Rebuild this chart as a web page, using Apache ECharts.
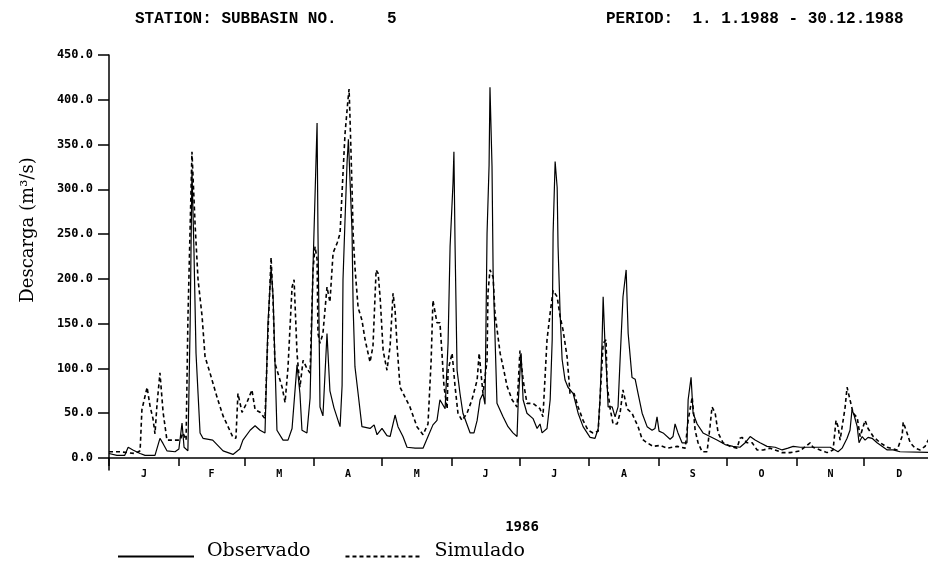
<!DOCTYPE html>
<html><head><meta charset="utf-8">
<script src="https://cdn.jsdelivr.net/npm/echarts@6/dist/echarts.min.js"></script>
<style>html,body{margin:0;padding:0;background:#fff}#c{width:928px;height:564px}</style>
</head><body><div id="c"></div>
<script>
const monthLetters = ['J','F','M','A','M','J','J','A','S','O','N','D'];
const monthStarts = [0,31,60,91,121,152,182,213,244,274,305,335,366];
const yTicks = [0,50,100,150,200,250,300,350,400,450];

// [day of year, discharge m3/s]
const observado = [[0,5],[3.5,3],[7,3],[8.5,12],[10.6,9],[13.8,5],[16,3],[20.4,3],[22.6,22],[24,16],[25.7,8],[29.3,7],[31,10],[32.4,39],[33.3,12],[35,8],[36,150],[36.8,322],[37.7,230],[38.6,117],[39.5,72],[40.4,28],[41.7,22],[46,20],[50.6,8],[55,4],[58,10],[59.4,20],[62.6,31],[64.8,36],[67,31],[69.2,28],[70.5,150],[71.9,212],[72.8,180],[73.6,109],[74.5,31],[77.2,20],[79.4,20],[81.2,33],[83.4,104],[84.7,72],[85.6,31],[87.8,28],[89.2,67],[90.5,213],[92.3,374],[92.7,251],[93.6,57],[94.9,47],[96.7,139],[98,75],[99.8,56],[102.5,35],[103.4,81],[103.8,199],[104.7,266],[105.6,330],[106.2,356],[107.8,254],[108.3,168],[109.1,102],[110.5,72],[112.2,35],[115.8,33],[117.6,37],[118.9,26],[121.1,33],[123.3,25],[124.7,24],[126.9,48],[128.2,35],[130.4,24],[132.2,12],[135.8,11],[139.3,11],[141.5,24],[143.7,37],[145.5,42],[146.8,65],[149.1,55],[150.4,128],[151.3,236],[152.6,307],[153,342],[153.5,239],[154.4,98],[155.7,72],[157,50],[160.2,28],[161.9,28],[163.3,42],[164.6,65],[165.9,72],[166.8,60],[167.7,251],[168.6,327],[169,414],[169.9,326],[170.4,205],[171.2,138],[172.1,61],[174.8,46],[177,35],[179.2,28],[181,24],[181.5,61],[182.8,117],[183.7,65],[185.4,50],[188.1,44],[189.9,33],[191.2,38],[192.1,28],[194.3,33],[195.7,65],[196.6,132],[197,251],[197.9,331],[198.8,302],[199.2,236],[200.1,162],[201,110],[202.3,87],[203.6,79],[205.9,72],[208.1,50],[210.3,35],[213.4,23],[215.6,22],[217,33],[217.8,65],[218.7,128],[219.2,180],[220,128],[220.9,87],[221.4,57],[223.2,57],[224.5,46],[225.8,57],[226.7,109],[228,180],[229.4,210],[230.3,139],[232,90],[233.4,88],[234.7,72],[236.5,50],[238.7,35],[240.9,31],[242.2,33],[243.1,46],[244,30],[245.8,28],[248.9,21],[250.2,24],[251.1,38],[252.4,28],[254.2,17],[256.4,17],[256.9,65],[258.2,90],[259.1,50],[260.9,38],[263.5,28],[266.6,24],[269.7,20],[273.3,15],[276.8,13],[279.9,12],[282.2,17],[284.4,24],[286.6,20],[288.8,17],[291.9,13],[295.5,12],[298.6,9],[301.2,11],[303.5,13],[306.6,12],[315.4,12],[319.9,12],[323.4,7],[325.2,11],[327.4,22],[328.7,31],[329.6,54],[330.5,48],[331.9,35],[332.7,17],[334.1,24],[335.4,20],[336.7,23],[338.5,22],[340.7,17],[342.9,13],[345.2,9],[347.8,9],[350.9,7],[366,6]];

const simulado = [[0,7],[4.9,7],[11.5,5],[13.8,8],[14.6,54],[16.9,79],[18.2,58],[19.5,44],[20.4,27],[21.3,60],[22.6,95],[24,51],[25.7,20],[28,20],[31.5,20],[32.8,28],[34.2,20],[35,154],[36.8,342],[38.2,260],[39.5,199],[41.3,158],[42.6,113],[44.8,95],[47.9,68],[50.6,47],[52.8,35],[55,23],[56.3,22],[57.2,72],[59,51],[61.2,62],[63.4,76],[64.8,54],[67,51],[69.2,44],[70.5,139],[71.9,224],[72.8,174],[73.6,106],[76.8,79],[78.1,62],[79.4,101],[81.2,191],[82.1,199],[83.4,117],[84.7,79],[86.1,109],[87.8,100],[89.2,95],[90.5,210],[91.4,236],[92.3,222],[92.7,139],[93.6,128],[94.9,139],[96.7,191],[98,174],[99.4,229],[101.2,240],[102.5,251],[103.8,318],[104.7,362],[106,400],[106.5,412],[106.9,380],[107.8,302],[108.3,250],[109.1,213],[110.5,168],[112.2,154],[113.6,132],[115.8,107],[117.1,125],[118.5,210],[119.4,206],[120.3,178],[121.6,120],[123.3,98],[124.7,125],[126,184],[126.9,165],[127.8,125],[129.1,79],[131.3,68],[133.5,57],[136.6,35],[139.3,26],[141.5,38],[142.9,109],[143.7,176],[145.5,151],[146.8,151],[147.7,117],[148.6,80],[150,55],[150.4,98],[152.2,117],[153.5,80],[154.8,50],[156.6,42],[158.8,50],[161,65],[163.3,87],[164.2,117],[165,95],[165.9,72],[167.7,109],[168.1,184],[169,210],[170.4,202],[171.2,162],[173.5,117],[174.8,102],[176.6,80],[178.8,65],[181,57],[182.3,120],[183.7,87],[185.4,61],[188.1,61],[191.2,55],[192.5,46],[194.3,132],[195.7,162],[197,187],[198.8,180],[200.1,158],[201.4,143],[203.2,113],[204.5,72],[206.3,72],[208.1,57],[210.3,42],[212.5,31],[214.7,28],[217,30],[217.8,65],[219.2,128],[220.5,132],[220.9,83],[222.3,55],[223.6,38],[225.4,38],[226.7,50],[228,76],[229.8,55],[232,50],[233.4,42],[234.7,35],[236.5,21],[238.7,17],[241.3,13],[244.4,14],[247.6,11],[252,13],[255.6,11],[256.9,42],[258.7,68],[260,31],[261.3,17],[263.1,7],[265.3,7],[266.6,35],[267.5,57],[268.9,50],[270.2,28],[272.4,17],[275.5,13],[278.6,11],[279.9,22],[280.8,23],[283,17],[285.3,17],[287.5,9],[290.2,9],[293.3,11],[298.6,6],[302.1,6],[306.6,8],[311,17],[312.3,12],[315.4,9],[318.5,6],[321.2,9],[322.5,42],[323.4,35],[324.3,20],[326.5,56],[327.4,79],[328.7,65],[330.1,50],[331.9,45],[333.2,24],[335.4,42],[336.7,33],[339,24],[342.1,17],[345.2,12],[349.6,9],[351.8,24],[352.3,40],[354,28],[355.4,17],[357.6,11],[359.8,9],[362,13],[363.4,20],[366,24]];

const monthMids = monthLetters.map((m, i) => (monthStarts[i] + monthStarts[i + 1]) / 2);

const chart = echarts.init(document.getElementById('c'), null, {renderer: 'canvas'});
const mono = 'DejaVu Sans Mono';
chart.setOption({
  animation: false,
  backgroundColor: '#fff',
  grid: {left: 109, top: 55, right: 0, height: 415, containLabel: false},
  legend: {
    left: 117, top: 542, padding: 0,
    itemWidth: 76, itemHeight: 14, itemGap: 34,
    data: ['Observado', 'Simulado'],
    itemStyle: {opacity: 0},
    formatter: name => '{t|' + name + '}',
    textStyle: {rich: {t: {fontFamily: 'DejaVu Serif', fontSize: 19, color: '#000', padding: [0, 0, 10, 8]}}}
  },
  xAxis: {
    type: 'value', min: 0, max: 363.3,
    name: '1986', nameLocation: 'middle', nameGap: 50,
    nameTextStyle: {fontFamily: mono, fontWeight: 'bold', fontSize: 14, color: '#000', padding: [0, 0, 0, 7]},
    axisLine: {onZero: true, lineStyle: {color: '#000', width: 1.6}},
    axisTick: {customValues: monthStarts.slice(0, 12), length: 8, lineStyle: {color: '#000', width: 1.5}},
    axisLabel: {customValues: monthMids, margin: -1, color: '#000', fontFamily: mono, fontWeight: 'bold', fontSize: 10,
      formatter: v => monthLetters[monthMids.indexOf(v)] || ''},
    splitLine: {show: false}
  },
  yAxis: {
    type: 'value', min: -13.4, max: 450,
    axisLine: {show: true, onZero: false, lineStyle: {color: '#000', width: 1.5}},
    axisTick: {customValues: yTicks, length: 11, lineStyle: {color: '#000', width: 1.5}},
    axisLabel: {customValues: yTicks, margin: 16, color: '#000', fontFamily: mono, fontWeight: 'bold', fontSize: 12,
      formatter: v => v.toFixed(1)},
    splitLine: {show: false}
  },
  graphic: [
    {type: 'text', left: 135, top: 11, style: {text: 'STATION: SUBBASIN NO.', font: 'bold 16px "Liberation Mono"', fill: '#000'}},
    {type: 'text', left: 387, top: 11, style: {text: '5', font: 'bold 16px "Liberation Mono"', fill: '#000'}},
    {type: 'text', left: 606, top: 11, style: {text: 'PERIOD:  1. 1.1988 - 30.12.1988', font: 'bold 16px "Liberation Mono"', fill: '#000'}},
    {type: 'text', x: 28, y: 230, rotation: Math.PI / 2,
      style: {text: 'Descarga (m³/s)', font: '18px "DejaVu Serif"', fill: '#000', align: 'center', verticalAlign: 'middle'}}
  ],
  series: [
    {name: 'Observado', type: 'line', data: observado, showSymbol: false, symbol: 'none', clip: true,
      lineStyle: {color: '#000', width: 1.2}, itemStyle: {color: '#000'}},
    {name: 'Simulado', type: 'line', data: simulado, showSymbol: false, symbol: 'none', clip: true,
      lineStyle: {color: '#000', width: 1.6, type: [4, 3]}, itemStyle: {color: '#000'}}
  ]
});
</script></body></html>
